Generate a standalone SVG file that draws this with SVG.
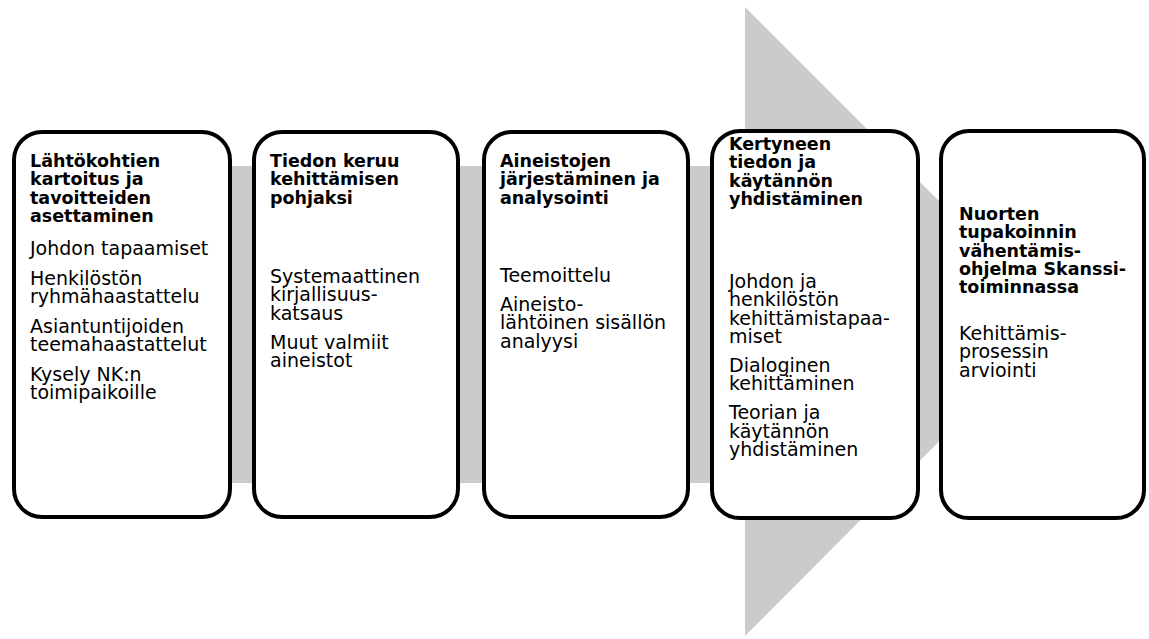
<svg xmlns="http://www.w3.org/2000/svg" width="1149" height="639" viewBox="0 0 1149 639">
<style>
.box{fill:#fff;stroke:#000;stroke-width:4}
.t{font-family:"DejaVu Sans",Verdana,sans-serif;font-size:19px;fill:#000}
.b{font-family:"DejaVu Sans",Verdana,sans-serif;font-size:17.5px;font-weight:bold;fill:#000}
</style>
<rect width="1149" height="639" fill="#fff"/>
<g id="process-arrow">
<polygon points="20,166 745,166 745,7 1059,321 745,636 745,483 20,483" fill="#cbcbcb"/>
</g>
<g id="connectors"></g>
<g id="node1">
<rect class="box" x="14" y="132" width="216" height="385" rx="28"/>
<text class="b" x="30"><tspan x="30" y="167">Lähtökohtien</tspan><tspan x="30" y="185.3">kartoitus ja</tspan><tspan x="30" y="203.6">tavoitteiden</tspan><tspan x="30" y="222">asettaminen</tspan></text>
<text class="t" x="30"><tspan x="30" y="255">Johdon tapaamiset</tspan><tspan x="30" y="285">Henkilöstön</tspan><tspan x="30" y="303.3">ryhmähaastattelu</tspan><tspan x="30" y="333">Asiantuntijoiden</tspan><tspan x="30" y="351.3">teemahaastattelut</tspan><tspan x="30" y="381">Kysely NK:n</tspan><tspan x="30" y="399.3">toimipaikoille</tspan></text>
</g>
<g id="node2">
<rect class="box" x="254" y="132" width="204" height="385" rx="28"/>
<text class="b"><tspan x="270" y="167">Tiedon keruu</tspan><tspan x="270" y="185.3">kehittämisen</tspan><tspan x="270" y="203.6">pohjaksi</tspan></text>
<text class="t"><tspan x="270" y="283">Systemaattinen</tspan><tspan x="270" y="301.3">kirjallisuus-</tspan><tspan x="270" y="319.6">katsaus</tspan><tspan x="270" y="348.5">Muut valmiit</tspan><tspan x="270" y="366.8">aineistot</tspan></text>
</g>
<g id="node3">
<rect class="box" x="484" y="132" width="204" height="385" rx="28"/>
<text class="b"><tspan x="500" y="167">Aineistojen</tspan><tspan x="500" y="185.3">järjestäminen ja</tspan><tspan x="500" y="203.6">analysointi</tspan></text>
<text class="t"><tspan x="500" y="282">Teemoittelu</tspan><tspan x="500" y="311">Aineisto-</tspan><tspan x="500" y="329.3">lähtöinen sisällön</tspan><tspan x="500" y="347.6">analyysi</tspan></text>
</g>
<g id="node4">
<rect class="box" x="712" y="131" width="206" height="387" rx="28"/>
<text class="b"><tspan x="729" y="150">Kertyneen</tspan><tspan x="729" y="168.3">tiedon ja</tspan><tspan x="729" y="186.6">käytännön</tspan><tspan x="729" y="205">yhdistäminen</tspan></text>
<text class="t"><tspan x="729" y="288">Johdon ja</tspan><tspan x="729" y="306.3">henkilöstön</tspan><tspan x="729" y="324.6">kehittämistapaa-</tspan><tspan x="729" y="343">miset</tspan><tspan x="729" y="372">Dialoginen</tspan><tspan x="729" y="390.3">kehittäminen</tspan><tspan x="729" y="419.3">Teorian ja</tspan><tspan x="729" y="437.6">käytännön</tspan><tspan x="729" y="456">yhdistäminen</tspan></text>
</g>
<g id="node5">
<rect class="box" x="941" y="131" width="203" height="387" rx="28"/>
<text class="b"><tspan x="959" y="220">Nuorten</tspan><tspan x="959" y="238.3">tupakoinnin</tspan><tspan x="959" y="256.6">vähentämis-</tspan><tspan x="959" y="275">ohjelma Skanssi-</tspan><tspan x="959" y="293.3">toiminnassa</tspan></text>
<text class="t"><tspan x="959" y="340">Kehittämis-</tspan><tspan x="959" y="358.3">prosessin</tspan><tspan x="959" y="376.6">arviointi</tspan></text>
</g>
</svg>
